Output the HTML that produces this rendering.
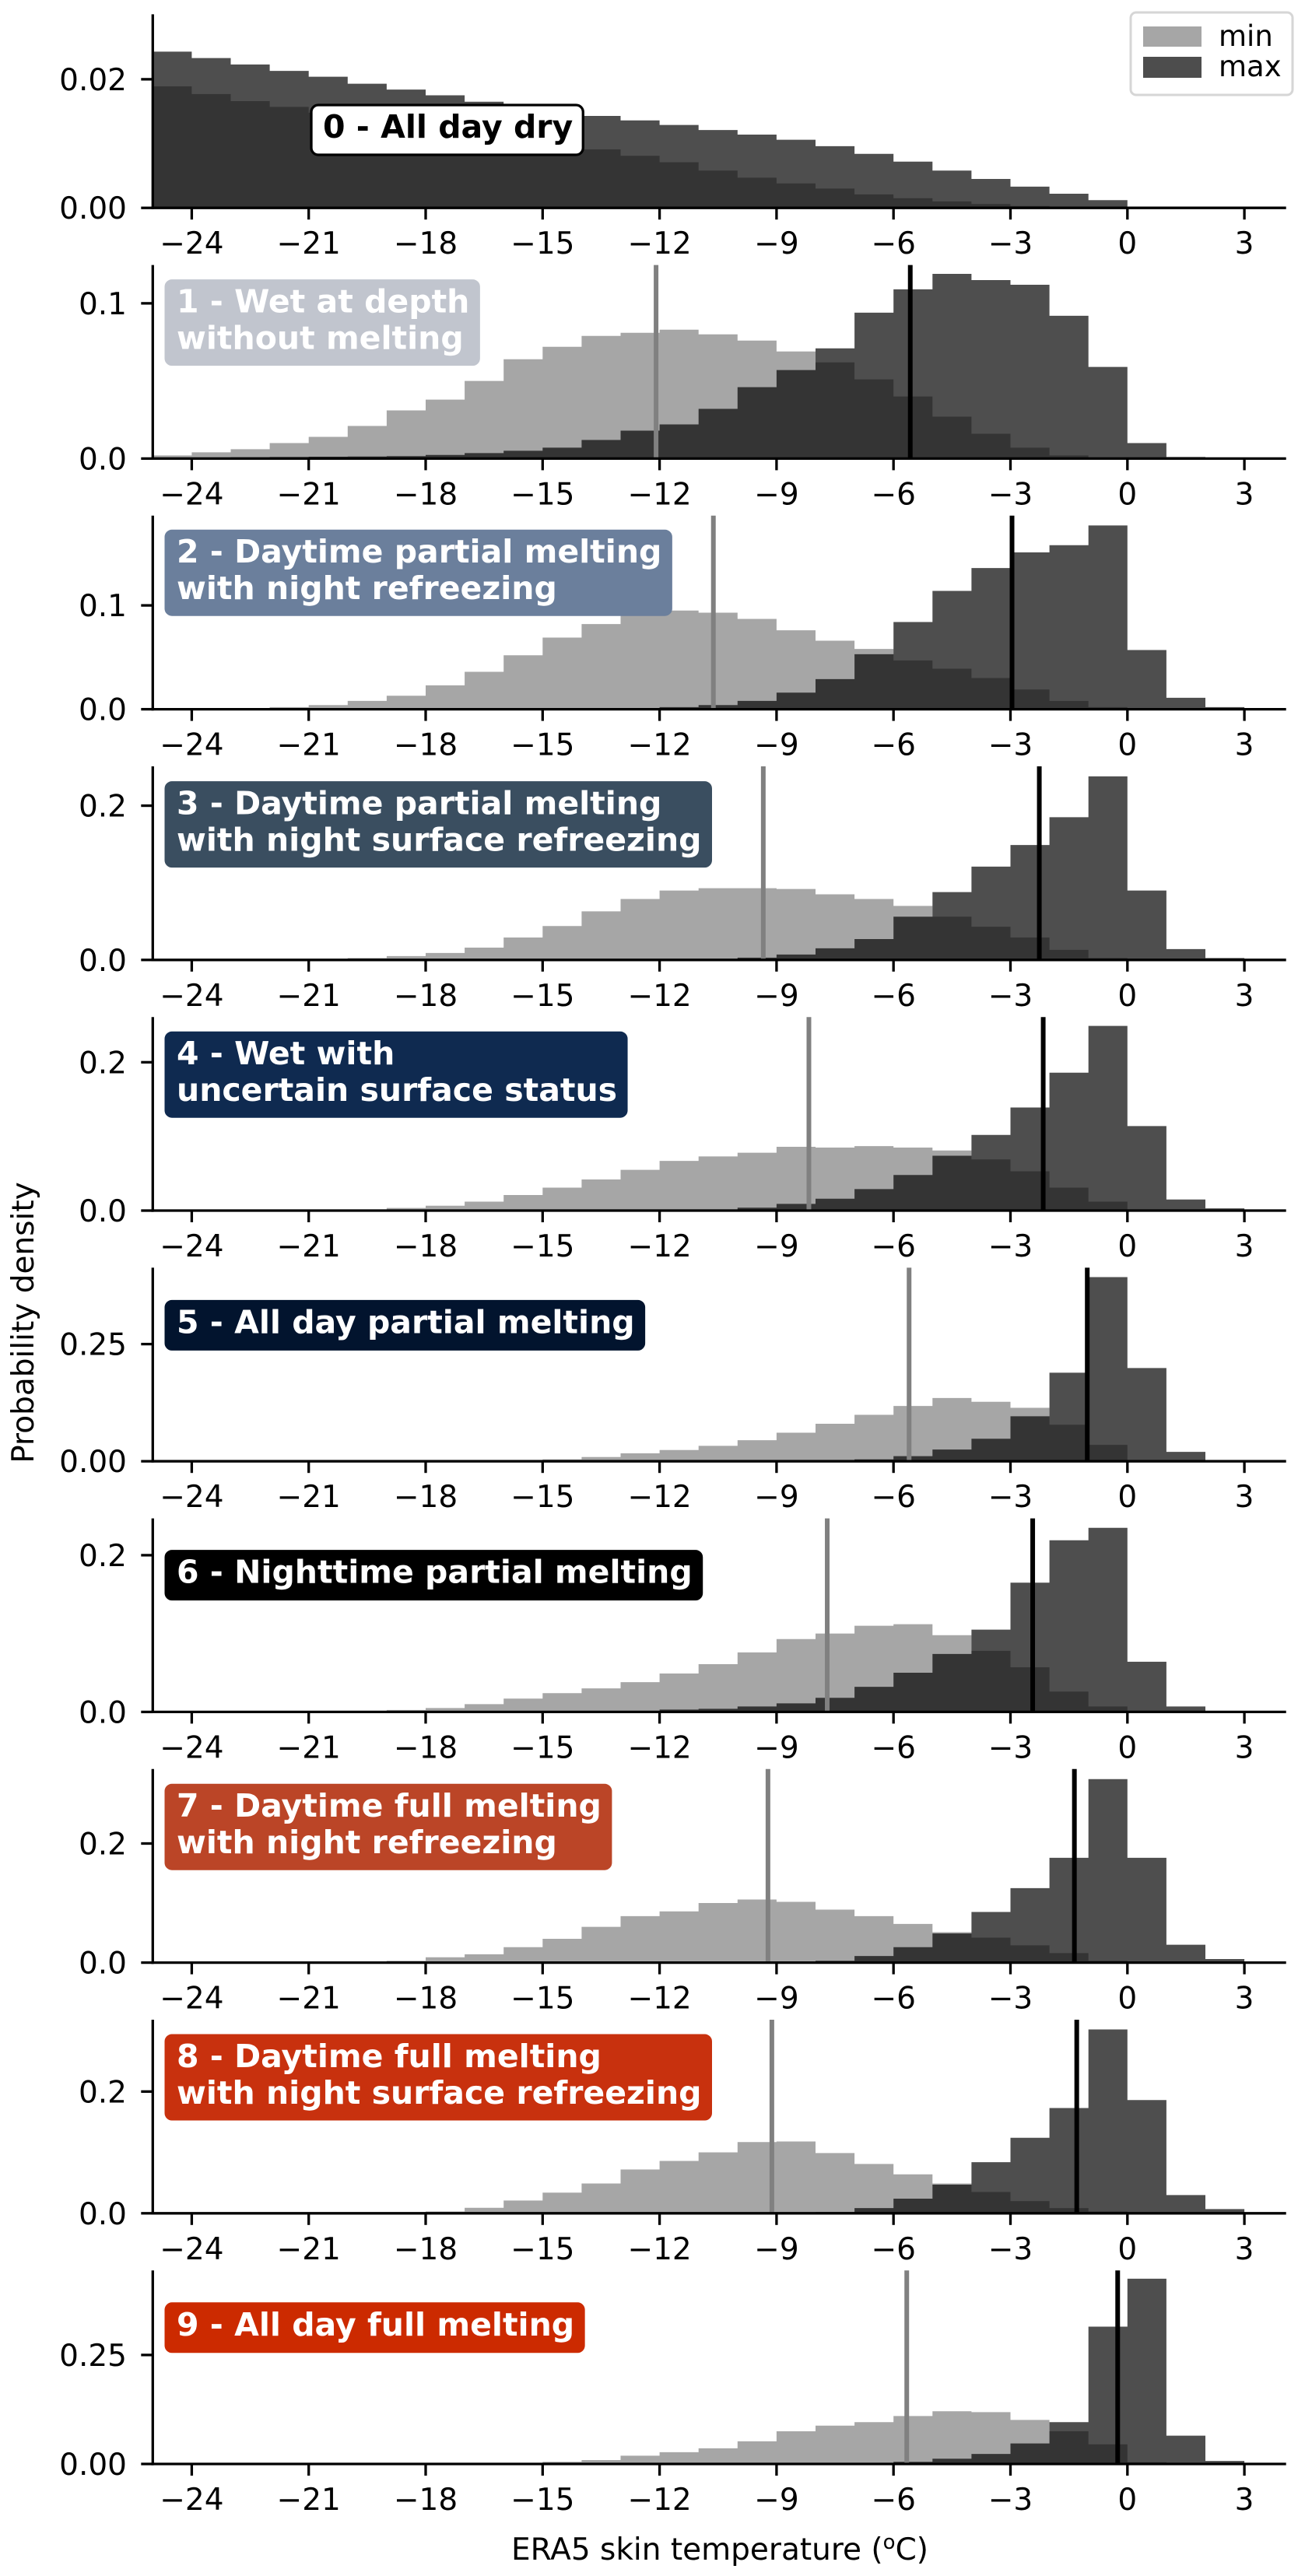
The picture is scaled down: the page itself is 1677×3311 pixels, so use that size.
<!DOCTYPE html>
<html><head><meta charset="utf-8"><style>
html,body{margin:0;padding:0;background:#fff;}
svg{display:block;font-family:"DejaVu Sans","Liberation Sans",sans-serif;}
</style></head><body>
<svg id="chart" width="1677" height="3311" viewBox="0 0 1677 3311" xmlns="http://www.w3.org/2000/svg">
<rect x="0" y="0" width="1677" height="3311" fill="#fff"/>
<g id="panels"></g>
<text transform="translate(43,1700) rotate(-90)" text-anchor="middle" font-size="39">Probability density</text>
<text x="925" y="3290" text-anchor="middle" font-size="39">ERA5 skin temperature (<tspan font-size="26" dy="-14">o</tspan><tspan dy="14">C)</tspan></text>
<g>
<rect x="1453" y="16" width="208" height="106" rx="7" fill="#fff" fill-opacity="0.8" stroke="#d6d6d6" stroke-width="3"/>
<rect x="1469" y="34" width="75" height="26" fill="#a6a6a6"/>
<text x="1566" y="59" font-size="37">min</text>
<rect x="1469" y="73" width="75" height="27" fill="#4d4d4d"/>
<text x="1566" y="98" font-size="37">max</text>
</g>
</svg>
<script>
// bins start at -25, width 1 (index i -> [-25+i, -24+i])
const binStart = -25;
const xTicks = [-24,-21,-18,-15,-12,-9,-6,-3,0,3];
const xTickLabels = ["\u221224","\u221221","\u221218","\u221215","\u221212","\u22129","\u22126","\u22123","0","3"];

const min0 = [.0189,.0177,.0166,.0157,.0148,.0139,.0130,.0121,.0112,.0104,.0097,.0091,.0081,.0071,.0058,.0047,.0038,.0030,.0021,.0015,.0010,.0006,.0003,.0002,.0001,0,0,0];
const max0 = [.0243,.0233,.0223,.0213,.0204,.0193,.0184,.0175,.0165,.0156,.0149,.0143,.0136,.0129,.0121,.0114,.0106,.0096,.0084,.0072,.0058,.0045,.0033,.0022,.0012,.0002,.0001,0];
const min1 = [.002,.004,.006,.010,.014,.021,.031,.038,.050,.064,.072,.079,.081,.083,.080,.076,.069,.062,.051,.040,.027,.016,.007,.002,0,0,0,0];
const max1 = [.0003,.0005,.0008,.001,.0012,.0013,.0016,.0023,.0035,.005,.007,.012,.018,.022,.032,.046,.057,.071,.094,.109,.119,.115,.112,.092,.059,.010,.001,.0005];
const min2 = [0,.0003,.001,.002,.004,.008,.013,.023,.036,.052,.069,.082,.092,.095,.093,.087,.076,.066,.058,.047,.039,.030,.019,.008,.002,0,0,0];
const max2 = [0,0,0,0,0,0,0,0,0,0,0,0,.001,.002,.004,.008,.016,.029,.053,.084,.114,.136,.151,.158,.177,.057,.011,.002];
const min3 = [0,0,0,0,.001,.0025,.005,.009,.016,.029,.044,.063,.079,.090,.093,.093,.092,.085,.079,.070,.056,.043,.029,.013,.0025,0,0,0];
const max3 = [0,0,0,0,0,0,0,0,0,0,0,0,0,0,.001,.003,.007,.015,.027,.056,.088,.121,.149,.185,.238,.090,.014,.0025];
const min4 = [0,0,0,0,.0005,.001,.0035,.0066,.012,.021,.031,.042,.055,.067,.073,.078,.086,.085,.087,.085,.081,.069,.053,.031,.012,.001,0,0];
const max4 = [0,0,0,0,0,0,0,0,0,0,0,0,0,0,.001,.004,.009,.016,.029,.048,.074,.102,.139,.186,.249,.114,.015,.003];
const min5 = [0,0,0,0,0,0,0,0,0,.001,.004,.009,.017,.024,.033,.045,.061,.080,.099,.118,.135,.127,.114,.078,.035,.001,0,0];
const max5 = [0,0,0,0,0,0,0,0,0,0,0,0,0,0,0,0,0,.001,.004,.011,.025,.048,.096,.189,.393,.199,.020,.001];
const min6 = [0,0,0,0,0,.001,.0025,.005,.010,.017,.024,.030,.038,.049,.061,.076,.093,.100,.110,.112,.098,.078,.057,.026,.007,.001,0,0];
const max6 = [0,0,0,0,0,0,0,0,0,0,0,.001,.0012,.003,.004,.007,.011,.018,.032,.050,.074,.105,.165,.219,.235,.064,.007,.001];
const min7 = [0,0,0,0,0,0,.003,.009,.014,.026,.040,.060,.078,.086,.100,.106,.102,.089,.078,.065,.051,.042,.029,.016,.003,0,0,0];
const max7 = [0,0,0,0,0,0,0,0,0,0,0,0,0,0,0,0,0,.003,.011,.026,.049,.085,.125,.176,.308,.176,.030,.006];
const min8 = [0,0,0,0,0,0,.0015,.003,.009,.021,.034,.049,.072,.086,.100,.117,.118,.099,.081,.064,.049,.035,.020,.0085,.003,0,0,0];
const max8 = [0,0,0,0,0,0,0,0,0,0,0,0,0,0,0,0,0,.002,.0085,.024,.047,.084,.124,.173,.302,.186,.030,.007];
const min9 = [0,0,0,0,0,0,0,0,0,.002,.005,.009,.019,.027,.036,.052,.075,.088,.096,.110,.121,.119,.101,.075,.045,.004,0,0];
const max9 = [0,0,0,0,0,0,0,0,0,0,0,0,0,0,0,0,0,0,.002,.005,.012,.023,.047,.096,.315,.425,.065,.007];

const meanMin = [null,-12.09,-10.62,-9.34,-8.17,-5.60,-7.70,-9.22,-9.12,-5.66];
const meanMax = [null,-5.57,-2.96,-2.26,-2.16,-1.03,-2.43,-1.36,-1.30,-0.25];
const yMax = [0.0301,0.1247,0.1864,0.251,0.261,0.413,0.247,0.325,0.318,0.444];
const yTickVals = [[0,0.02],[0,0.1],[0,0.1],[0,0.2],[0,0.2],[0,0.25],[0,0.2],[0,0.2],[0,0.2],[0,0.25]];
const yTickLabels = [["0.00","0.02"],["0.0","0.1"],["0.0","0.1"],["0.0","0.2"],["0.0","0.2"],["0.00","0.25"],["0.0","0.2"],["0.0","0.2"],["0.0","0.2"],["0.00","0.25"]];
const classNames = [["0 - All day dry"],["1 - Wet at depth","without melting"],["2 - Daytime partial melting","with night refreezing"],["3 - Daytime partial melting","with night surface refreezing"],["4 - Wet with","uncertain surface status"],["5 - All day partial melting"],["6 - Nighttime partial melting"],["7 - Daytime full melting","with night refreezing"],["8 - Daytime full melting","with night surface refreezing"],["9 - All day full melting"]];
const classColors = ["#ffffff","#c1c5ce","#6b7f9c","#3a4e60","#0f2a50","#02142e","#000000","#bb4527","#c8310e","#cc2a00"];

const minSeries = [min0,min1,min2,min3,min4,min5,min6,min7,min8,min9];
const maxSeries = [max0,max1,max2,max3,max4,max5,max6,max7,max8,max9];

const NS = "http://www.w3.org/2000/svg";
const X0 = 196.3, PX = 50.1, XL = -25, XR = 4.07;
const TOP0 = 18.4, PITCH = 322.2, PH = 248.8;
function xs(v){ return X0 + (v - XL) * PX; }
function mk(tag, attrs, parent){ const e = document.createElementNS(NS, tag); for (const k in attrs) e.setAttribute(k, attrs[k]); parent.appendChild(e); return e; }
function stepPath(vals, ys, bot){
  let d = 'M' + xs(binStart).toFixed(2) + ',' + bot.toFixed(2);
  vals.forEach((v, i) => {
    const b = binStart + i;
    const y = ys(v).toFixed(2);
    d += ' L' + xs(b).toFixed(2) + ',' + y + ' L' + xs(b + 1).toFixed(2) + ',' + y;
  });
  d += ' L' + xs(binStart + vals.length).toFixed(2) + ',' + bot.toFixed(2) + ' Z';
  return d;
}

const root = document.getElementById('panels');
for (let p = 0; p < 10; p++) {
  const top = TOP0 + p * PITCH, bot = top + PH;
  const ys = v => bot - v / yMax[p] * PH;
  const g = mk('g', {}, root);
  
  
  const hMin = mk('path', {d: stepPath(minSeries[p], ys, bot), fill: '#a6a6a6'}, g);
  
  
  const hMax = mk('path', {d: stepPath(maxSeries[p], ys, bot), fill: '#050505', 'fill-opacity': 0.71}, g);
  
  
  if (meanMin[p] !== null) {
    const l1 = mk('line', {x1: xs(meanMin[p]), x2: xs(meanMin[p]), y1: top, y2: bot, stroke: '#808080', 'stroke-width': 6}, g);
    
    
    const l2 = mk('line', {x1: xs(meanMax[p]), x2: xs(meanMax[p]), y1: top, y2: bot, stroke: '#000', 'stroke-width': 6}, g);
    
    
  }
  const sl = mk('line', {x1: X0, x2: X0, y1: top, y2: bot + 1.6, stroke: '#000', 'stroke-width': 3.3}, g);
  
  
  const sb = mk('line', {x1: X0 - 1.6, x2: xs(XR), y1: bot, y2: bot, stroke: '#000', 'stroke-width': 3.3}, g);
  
  
  xTicks.forEach((t, k) => {
    const tk = mk('line', {x1: xs(t), x2: xs(t), y1: bot, y2: bot + 15, stroke: '#000', 'stroke-width': 3.3}, g);
    
    
    const tl = mk('text', {x: xs(t), y: bot + 59, 'text-anchor': 'middle', 'font-size': 39}, g);
    
    
    tl.textContent = xTickLabels[k];
  });
  yTickVals[p].forEach((t, k) => {
    const yy = ys(t);
    const tk = mk('line', {x1: X0 - 15, x2: X0, y1: yy, y2: yy, stroke: '#000', 'stroke-width': 3.3}, g);
    
    
    const tl = mk('text', {x: 163, y: yy + 14, 'text-anchor': 'end', 'font-size': 39}, g);
    
    
    tl.textContent = yTickLabels[p][k];
  });
  const lines = classNames[p];
  const bx = (p === 0) ? 400 : 212;
  const offs = [116.6,19,18.4,19.6,19,42,41,19.4,19,41.6];
  const by = top + offs[p];
  const lg = mk('g', {}, g);
  
  
  const box = mk('rect', {x: bx, y: by, rx: 9, fill: classColors[p], stroke: p === 0 ? '#000' : classColors[p], 'stroke-width': p === 0 ? 3.3 : 1}, lg);
  
  
  let maxW = 0;
  lines.forEach((s, k) => {
    const t = mk('text', {x: bx + 15, y: by + 42 + k * 47, 'font-size': 41, 'font-weight': 'bold', fill: p === 0 ? '#000' : '#fff'}, lg);
    
    
    t.textContent = s;
    maxW = Math.max(maxW, t.getComputedTextLength());
  });
  box.setAttribute('width', maxW + 28);
  box.setAttribute('height', lines.length === 1 ? 64 : 110);
}
</script>
</body></html>
